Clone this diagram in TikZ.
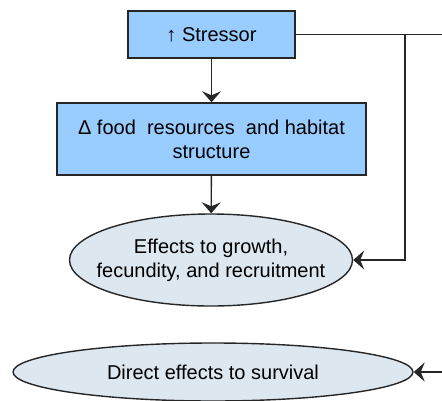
\documentclass[tikz,border=0pt]{standalone}
\usepackage{fontspec}
\setmainfont{Liberation Sans}
\usetikzlibrary{shapes.geometric,arrows.meta}
\definecolor{boxblue}{HTML}{99CCFF}
\definecolor{ovalgrey}{HTML}{DDE7F0}

\begin{document}
\begin{tikzpicture}[
        x=1pt, y=-1pt,
        every node/.style={font=\fontsize{20}{24}\selectfont, align=center, inner sep=0pt},
        boxNode/.style={rectangle, draw=black!85, line width=1.4pt, fill=boxblue},
        ovalNode/.style={ellipse, draw=black!85, line width=1.4pt, fill=ovalgrey, inner xsep=-20pt},
        link/.style={draw=black!85, line width=1.4pt},
        arrowLink/.style={link, -{Stealth[length=11pt, width=19pt, inset=4pt]}}
        ]
        \useasboundingbox (0,0) rectangle (442,400);

        \node [boxNode, minimum width=167pt, minimum height=47pt] (stressor) at (211.5,34.5) {↑ Stressor};
        \node [boxNode, minimum width=309pt, minimum height=72pt] (food) at (211.5,139) {Δ food\ \ resources\ \ and habitat\\structure};
        \node [ovalNode, minimum width=283pt, minimum height=92pt] (growth) at (211,260) {Effects to growth,\\fecundity, and recruitment};
        \node [ovalNode, minimum width=400pt, minimum height=58pt] (survival) at (213,372) {Direct effects to survival};

        \coordinate (rimTop) at (442,34.5);
        \coordinate (joint) at (405,34.5);
        \coordinate (rimLow) at (442,372);

        \draw [arrowLink] (stressor) -- (food);
        \draw [arrowLink] (food) -- (growth);
        \draw [link] (stressor.east) -- (rimTop);
        \draw [arrowLink] (joint) |- (growth.east);
        \draw [arrowLink] (rimLow) -- (survival.east);
    \end{tikzpicture}
\end{document}
